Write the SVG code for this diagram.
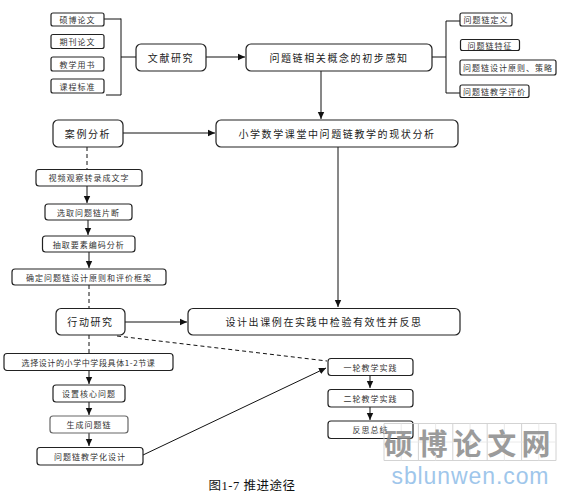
<svg xmlns="http://www.w3.org/2000/svg" width="573" height="495" viewBox="0 0 573 495">
<style>
.b{fill:#fff;stroke:#222;stroke-width:1.2}
.s{font-family:"Noto Sans CJK SC","Liberation Sans",sans-serif;font-size:8px;letter-spacing:1px;fill:#333;text-anchor:middle;dominant-baseline:central}
.m{font-family:"Noto Sans CJK SC","Liberation Sans",sans-serif;font-size:10px;letter-spacing:1.6px;fill:#222;text-anchor:middle;dominant-baseline:central}
.c{fill:none;stroke:#111;stroke-width:1}
.d{fill:none;stroke:#111;stroke-width:1;stroke-dasharray:4,3}
</style>
<defs>
<marker id="a" markerUnits="userSpaceOnUse" markerWidth="8" markerHeight="8" refX="7" refY="4" orient="auto">
<path d="M0,0.8 L7,4 L0,7.2 Z" fill="#111"/>
</marker>
</defs>
<rect width="573" height="495" fill="#fff"/>
<g id="connectors">
<path class="c" d="M104,19 H121 M106,95 H121 M121,18.5 V95 M121,57 H136"/>
<path class="c" d="M206,57 H245" marker-end="url(#a)"/>
<path class="c" d="M432,57 H446 M446,21 V93 M446,21 H460 M446,93 H460"/>
<path class="c" d="M321,71 V119" marker-end="url(#a)"/>
<path class="c" d="M123,133 H215" marker-end="url(#a)"/>
<path class="d" d="M87,147 V169"/>
<path class="c" d="M87,186 V203" marker-end="url(#a)"/>
<path class="c" d="M88,220 V235" marker-end="url(#a)"/>
<path class="c" d="M89,252 V268" marker-end="url(#a)"/>
<path class="d" d="M89,285 V308"/>
<path class="c" d="M125,322 H187" marker-end="url(#a)"/>
<path class="c" d="M338,147 V307" marker-end="url(#a)"/>
<path class="d" d="M89,335 V353"/>
<path class="d" d="M117,336 L327,361"/>
<path class="c" d="M89,371 V384" marker-end="url(#a)"/>
<path class="c" d="M89,402 V415" marker-end="url(#a)"/>
<path class="c" d="M89,433 V446" marker-end="url(#a)"/>
<path class="c" d="M143,455 L326,368" marker-end="url(#a)"/>
<path class="c" d="M370,376 V388" marker-end="url(#a)"/>
<path class="c" d="M370,407 V420" marker-end="url(#a)"/>
</g>
<g id="n1"><rect class="b" x="51" y="13" width="53" height="13" rx="2"/><text class="s" x="77.5" y="19.5">硕博论文</text></g>
<g id="n2"><rect class="b" x="51" y="34.5" width="53" height="14" rx="2"/><text class="s" x="77.5" y="41.5">期刊论文</text></g>
<g id="n3"><rect class="b" x="51" y="57" width="53" height="14" rx="2"/><text class="s" x="77.5" y="64">教学用书</text></g>
<g id="n4"><rect class="b" x="51" y="79" width="53" height="14" rx="2"/><text class="s" x="77.5" y="86">课程标准</text></g>
<g id="n5"><rect class="b" x="136" y="44" width="70" height="27" rx="5"/><text class="m" x="171" y="57.5">文献研究</text></g>
<g id="n6"><rect class="b" x="246" y="44" width="186" height="27" rx="5"/><text class="m" x="339" y="57.5">问题链相关概念的初步感知</text></g>
<g id="n7"><rect class="b" x="460" y="13" width="52" height="13" rx="2"/><text class="s" x="486" y="19.5">问题链定义</text></g>
<g id="n8"><rect class="b" x="460.5" y="39.5" width="59" height="11" rx="2"/><text class="s" x="490" y="45">问题链特征</text></g>
<g id="n9"><rect class="b" x="460" y="60" width="96" height="15" rx="2"/><text class="s" x="508" y="67.5">问题链设计原则、策略</text></g>
<g id="n10"><rect class="b" x="460" y="85" width="69" height="12.5" rx="2"/><text class="s" x="494.5" y="91.3">问题链教学评价</text></g>
<g id="n11"><rect class="b" x="53" y="120" width="70" height="27" rx="5"/><text class="m" x="88" y="133.5">案例分析</text></g>
<g id="n12"><rect class="b" x="216" y="120" width="242" height="27" rx="5"/><text class="m" x="337" y="133.5">小学数学课堂中问题链教学的现状分析</text></g>
<g id="n13"><rect class="b" x="36" y="169.5" width="106" height="16.5" rx="3"/><text class="s" x="89" y="177.8">视频观察转录成文字</text></g>
<g id="n14"><rect class="b" x="45" y="204" width="87" height="16" rx="3"/><text class="s" x="88.5" y="212">选取问题链片断</text></g>
<g id="n15"><rect class="b" x="42.5" y="236" width="92.5" height="16" rx="3"/><text class="s" x="88.8" y="244">抽取要素编码分析</text></g>
<g id="n16"><rect class="b" x="12" y="269" width="154" height="16" rx="3"/><text class="s" x="89" y="277">确定问题链设计原则和评价框架</text></g>
<g id="n17"><rect class="b" x="56" y="308.5" width="69" height="26.5" rx="5"/><text class="m" x="90.5" y="321.8">行动研究</text></g>
<g id="n18"><rect class="b" x="188" y="308.5" width="272" height="26.5" rx="5"/><text class="m" x="324" y="321.8">设计出课例在实践中检验有效性并反思</text></g>
<g id="n19"><rect class="b" x="4" y="353.5" width="169" height="17" rx="3"/><text class="s" x="88.5" y="362" style="letter-spacing:0.6px">选择设计的小学中学段具体1-2节课</text></g>
<g id="n20"><rect class="b" x="53" y="385" width="72" height="17" rx="3"/><text class="s" x="89" y="393.5">设置核心问题</text></g>
<g id="n21"><rect class="b" x="50" y="416" width="78" height="17" rx="3" style="stroke:#666"/><text class="s" x="89" y="424.5">生成问题链</text></g>
<g id="n22"><rect class="b" x="37" y="447.5" width="106" height="17.5" rx="3"/><text class="s" x="90" y="456.3">问题链教学化设计</text></g>
<g id="n23"><rect class="b" x="328" y="358.5" width="85" height="17" rx="3"/><text class="s" x="370.5" y="367">一轮教学实践</text></g>
<g id="n24"><rect class="b" x="328" y="389.5" width="85" height="17.5" rx="3"/><text class="s" x="370.5" y="398.3">二轮教学实践</text></g>
<g id="n25"><rect class="b" x="328" y="421" width="85" height="17.5" rx="3"/><text class="s" x="370.5" y="429.8">反思总结</text></g>
<g id="watermark" opacity="0.85">
<path d="M384,423.5 H556 V460.5 H384 Z M418.4,423.5 V460.5 M452.8,423.5 V460.5 M487.2,423.5 V460.5 M521.6,423.5 V460.5" fill="none" stroke="#ccc" stroke-width="1"/>
<path d="M384,442 H556 M401.2,423.5 V460.5 M435.6,423.5 V460.5 M470,423.5 V460.5 M504.4,423.5 V460.5 M538.8,423.5 V460.5" fill="none" stroke="#e2e2e2" stroke-width="0.8"/>
<text x="470" y="441.5" font-family="Noto Sans CJK SC, sans-serif" font-size="29" font-weight="bold" fill="#8a8a8a" text-anchor="middle" dominant-baseline="central" letter-spacing="5.4">硕博论文网</text>
<text x="470" y="484" font-family="Liberation Sans, Arial, sans-serif" font-size="23" fill="#8fbde8" text-anchor="middle" textLength="157">sblunwen.com</text>
</g>
<text x="252" y="490" font-family="Liberation Serif, Noto Sans CJK SC, serif" font-size="12.5" fill="#111" text-anchor="middle" letter-spacing="0.5">图1-7  推进途径</text>
</svg>
